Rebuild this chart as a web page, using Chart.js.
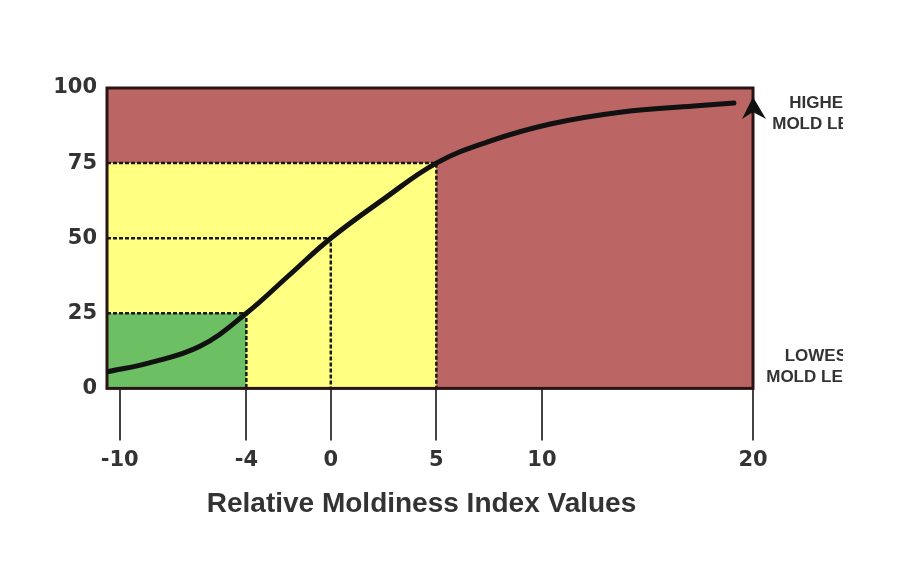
<!DOCTYPE html>
<html>
<head>
<meta charset="utf-8">
<script src="https://cdn.jsdelivr.net/npm/chart.js@4/dist/chart.umd.min.js"></script>
<style>
  html, body { margin: 0; padding: 0; background: #ffffff; }
  #wrap { width: 900px; height: 576px; position: relative; }
  canvas { display: block; }
</style>
</head>
<body>
<div id="wrap"><canvas id="c" width="843" height="576"></canvas></div>
<script>
// ---- data ----
const xTickValues = [-10, -4, 0, 5, 10, 20];
const yTickValues = [0, 25, 50, 75, 100];
const curveX = [-10.6, -8.6, -6.2, -4, -2, 0, 2.5, 5, 7.4, 10.4, 13.8, 17.2, 19.1];
const curveY = [5.5, 8.5, 14, 25, 37.5, 50, 63, 75, 82, 88, 92, 94, 95];
const thresholdX = [-4, 0, 5];     // index values marking the zones
const thresholdY = [25, 50, 75];   // corresponding percent levels
const axisTitle = 'Relative Moldiness Index Values';
const highLabel = ['HIGHEST', 'MOLD LEVEL'];
const lowLabel = ['LOWEST', 'MOLD LEVEL'];

const COL_RED = '#bb6665';
const COL_YEL = '#ffff82';
const COL_GRN = '#6dbf63';
const COL_DARK = '#2a1414';
const TXT = '#333333';
const TICK_FONT = { family: 'DejaVu Sans', size: 21, weight: 'bold' };

const points = curveX.map((x, i) => ({ x: x, y: curveY[i] }));

const zonesPlugin = {
  id: 'zones',
  beforeDatasetsDraw(chart) {
    const { ctx, chartArea: a, scales: { x, y } } = chart;
    ctx.save();
    ctx.fillStyle = COL_RED;
    ctx.fillRect(a.left, a.top, a.right - a.left, a.bottom - a.top);
    const xYel = x.getPixelForValue(thresholdX[2]);
    const yYel = y.getPixelForValue(thresholdY[2]);
    ctx.fillStyle = COL_YEL;
    ctx.fillRect(a.left, yYel, xYel - a.left, a.bottom - yYel);
    const xG = x.getPixelForValue(thresholdX[0]);
    const yG = y.getPixelForValue(thresholdY[0]);
    ctx.fillStyle = COL_GRN;
    ctx.fillRect(a.left, yG, xG - a.left, a.bottom - yG);
    ctx.strokeStyle = '#1a1a10';
    ctx.lineWidth = 2.5;
    ctx.setLineDash([4, 2]);
    for (let i = 0; i < thresholdX.length; i++) {
      const px = x.getPixelForValue(thresholdX[i]);
      const py = y.getPixelForValue(thresholdY[i]);
      ctx.beginPath();
      ctx.moveTo(a.left, py);
      ctx.lineTo(px, py);
      ctx.lineTo(px, a.bottom);
      ctx.stroke();
    }
    ctx.setLineDash([]);
    ctx.strokeStyle = COL_DARK;
    ctx.lineWidth = 3;
    ctx.strokeRect(a.left, a.top, a.right - a.left, a.bottom - a.top);
    ctx.restore();
  },
  afterDatasetsDraw(chart) {
    const { ctx, chartArea: a, scales: { x } } = chart;
    ctx.save();
    const ax = x.getPixelForValue(xTickValues[xTickValues.length - 1]);
    const tipY = a.top + 9;
    ctx.fillStyle = '#111';
    ctx.beginPath();
    ctx.moveTo(ax, tipY);
    ctx.lineTo(ax + 13, tipY + 22);
    ctx.lineTo(ax, tipY + 15);
    ctx.lineTo(ax - 11, tipY + 22);
    ctx.closePath();
    ctx.fill();
    ctx.fillStyle = TXT;
    ctx.font = 'bold 17px "Liberation Sans", Arial, sans-serif';
    ctx.textAlign = 'center';
    ctx.textBaseline = 'middle';
    ctx.fillText(highLabel[0], a.right + 74, a.top + 15);
    ctx.fillText(highLabel[1], a.right + 74, a.top + 36);
    ctx.fillText(lowLabel[0], a.right + 68, a.bottom - 32);
    ctx.fillText(lowLabel[1], a.right + 68, a.bottom - 11);
    ctx.restore();
  }
};

new Chart(document.getElementById('c'), {
  type: 'line',
  data: {
    datasets: [{
      data: points,
      borderColor: '#111111',
      borderWidth: 5,
      pointRadius: 0,
      fill: false,
      tension: 0.4,
      borderCapStyle: 'round'
    }]
  },
  options: {
    responsive: false,
    animation: false,
    devicePixelRatio: 1,
    layout: { padding: { top: 88, left: 0, right: 0, bottom: 0 } },
    plugins: {
      legend: { display: false },
      tooltip: { enabled: false },
      title: {
        display: true,
        text: axisTitle,
        position: 'bottom',
        fullSize: true,
        color: TXT,
        font: { family: '"Liberation Sans", Arial, sans-serif', size: 28, weight: 'bold' },
        padding: { top: 4, bottom: 55 }
      }
    },
    scales: {
      x: {
        type: 'linear',
        min: -10.6,
        max: 20,
        afterBuildTicks(scale) { scale.ticks = xTickValues.map(v => ({ value: v })); },
        afterFit(scale) { scale.height = 95; },
        ticks: {
          color: TXT,
          font: TICK_FONT,
          padding: 8,
          autoSkip: false,
          maxRotation: 0,
          callback: (v) => String(v)
        },
        grid: {
          display: true,
          drawOnChartArea: false,
          drawTicks: true,
          tickLength: 52,
          color: '#444444',
          lineWidth: 2
        },
        border: { display: false }
      },
      y: {
        type: 'linear',
        min: 0,
        max: 100,
        afterBuildTicks(scale) { scale.ticks = yTickValues.map(v => ({ value: v })); },
        afterFit(scale) { scale.width = 107; },
        ticks: { color: TXT, font: TICK_FONT, padding: 10 },
        grid: { display: false, drawTicks: false },
        border: { display: false }
      },
      yRight: {
        type: 'linear',
        position: 'right',
        display: true,
        afterFit(scale) { scale.width = 90; },
        ticks: { display: false },
        grid: { display: false, drawTicks: false },
        border: { display: false }
      }
    }
  },
  plugins: [zonesPlugin]
});
</script>
</body>
</html>
